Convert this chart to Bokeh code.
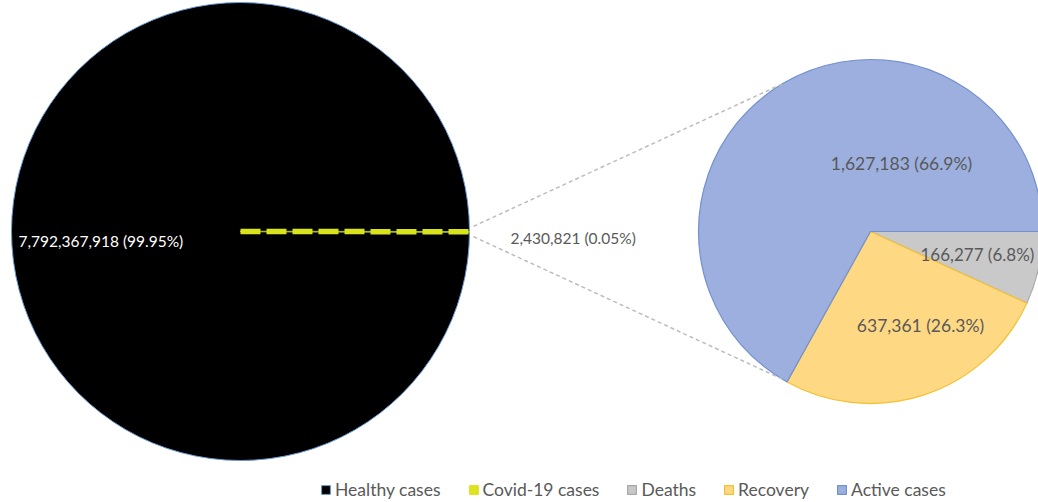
import math
from bokeh.plotting import figure
from bokeh.models import Range1d, ColumnDataSource, Legend, LegendItem
from bokeh.core.properties import value
from bokeh.embed import file_html
from bokeh.resources import INLINE

# ---- data ----
main_labels = ["Healthy cases", "Covid-19 cases"]
main_values = [7792367918, 2430821]
main_pct = ["99.95%", "0.05%"]

sub_labels = ["Deaths", "Recovery", "Active cases"]
sub_values = [166277, 637361, 1627183]
sub_pct = ["6.8%", "26.3%", "66.9%"]

# ---- style ----
FONT = value("Lato")
W, H = 1038, 502
c1x, c1y, r1 = 240, H - 231, 229
c2x, c2y, r2 = 870, H - 231, 172

p = figure(width=W, height=H, x_range=Range1d(0, W), y_range=Range1d(0, H),
           output_backend="svg", toolbar_location=None, min_border=0,
           x_axis_type=None, y_axis_type=None)
p.grid.visible = False
p.outline_line_color = None
p.background_fill_color = "white"
p.border_fill_color = "white"

# ---- main pie ----
tot = sum(main_values)
a_cov = 2 * math.pi * main_values[1] / tot
r_healthy = p.wedge(x=c1x, y=c1y, radius=r1, start_angle=0, end_angle=-a_cov,
                    direction="anticlock", fill_color="#000000",
                    line_color="#6a9ad6", line_width=1)
r_cov = p.wedge(x=c1x, y=c1y, radius=r1, start_angle=-a_cov, end_angle=0,
                direction="anticlock", fill_color="#dce31f",
                line_color="#dce31f", line_width=1)
mid = -a_cov / 2
p.ray(x=c1x, y=c1y, length=r1, angle=mid, length_units="data",
      line_color="#9fb832", line_width=1.5)
p.ray(x=c1x, y=c1y, length=r1, angle=mid, length_units="data",
      line_color="#d9e31c", line_width=5.5, line_dash="20 6")
r_cov_dot = p.scatter(x=[], y=[], marker="circle", size=4, fill_color="#f07a8a", line_color=None)

# ---- sub pie ----
stot = sum(sub_values)
cum = [0.0]
for v in sub_values:
    cum.append(cum[-1] + 2 * math.pi * v / stot)
src = ColumnDataSource(dict(
    start=[-cum[i + 1] for i in range(3)],
    end=[-cum[i] for i in range(3)],
    fill=["#c9c9c9", "#ffd883", "#9cafde"],
    line=["#a8a8a8", "#f2c232", "#7390d0"],
))
r_sub = p.wedge(x=c2x, y=c2y, radius=r2, start_angle="start", end_angle="end",
                direction="anticlock", fill_color="fill", line_color="line",
                line_width=1.2, source=src)

# ---- connector lines ----
da = 0.022
xs0 = [c1x + (r1 + 4) * math.cos(da), c1x + (r1 + 4) * math.cos(-da)]
ys0 = [c1y + (r1 + 4) * math.sin(da), c1y + (r1 + 4) * math.sin(-da)]
xs1 = [c2x + r2 * math.cos(math.radians(121)), c2x + r2 * math.cos(math.radians(239))]
ys1 = [c2y + r2 * math.sin(math.radians(121)), c2y + r2 * math.sin(math.radians(239))]
p.segment(x0=xs0, y0=ys0, x1=xs1, y1=ys1, line_color="#bdbdbd",
          line_width=1.5, line_dash="4 3")

# ---- labels ----
lab = lambda v, pc: f"{v:,} ({pc})"
p.text(x=[18], y=[H - 240], text=[lab(main_values[0], main_pct[0])],
       text_color="white", text_font=FONT, text_font_size="15.5px",
       text_baseline="middle", text_align="left")
p.text(x=[510], y=[H - 237], text=[lab(main_values[1], main_pct[1])],
       text_color="#595959", text_font=FONT, text_font_size="15.5px",
       text_baseline="middle", text_align="left")
p.text(x=[920, 920, 901], y=[H - 254, H - 325, H - 163],
       text=[lab(v, pc) for v, pc in zip(sub_values, sub_pct)],
       text_align=["left", "center", "center"],
       text_color="#595959", text_font=FONT,
       text_font_size=["17px", "17.5px", "17.5px"],
       text_baseline="middle")

# ---- legend ----
items = [
    LegendItem(label=main_labels[0], renderers=[r_healthy]),
    LegendItem(label=main_labels[1], renderers=[r_cov, r_cov_dot]),
    LegendItem(label=sub_labels[0], renderers=[r_sub], index=0),
    LegendItem(label=sub_labels[1], renderers=[r_sub], index=1),
    LegendItem(label=sub_labels[2], renderers=[r_sub], index=2),
]
legend = Legend(items=items, orientation="horizontal", location=(320, 2),
                glyph_width=11, glyph_height=11, label_standoff=4, spacing=27,
                padding=0, margin=0, border_line_alpha=0, background_fill_alpha=0,
                label_text_font="Lato", label_text_font_size="17.5px",
                label_text_color="#595959")
p.add_layout(legend, "center")

open("out.html", "w").write(file_html(p, INLINE))
